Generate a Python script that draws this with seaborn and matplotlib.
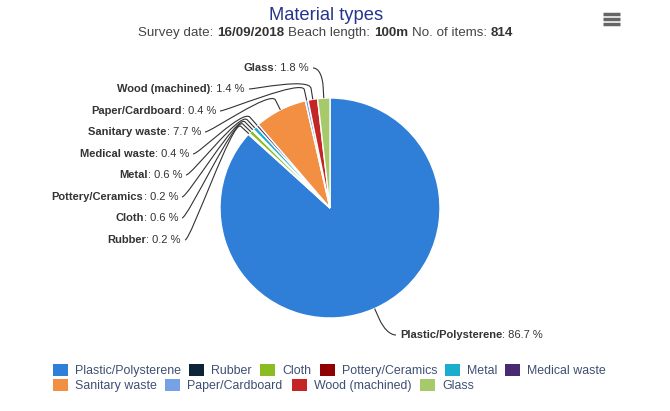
import numpy as np
import matplotlib.pyplot as plt
import seaborn as sns
from matplotlib.patches import Patch, PathPatch
from matplotlib.path import Path
from matplotlib.lines import Line2D

# donnees du graphique
materials = ["Plastic/Polysterene", "Rubber", "Cloth", "Pottery/Ceramics", "Metal",
             "Medical waste", "Sanitary waste", "Paper/Cardboard", "Wood (machined)", "Glass"]
shares = [86.7, 0.2, 0.6, 0.2, 0.6, 0.4, 7.7, 0.4, 1.4, 1.8]
colours = ["#2f7ed8", "#0d233a", "#8bbc21", "#910000", "#1aadce",
           "#492970", "#f28f43", "#77a1e5", "#c42525", "#a6c96a"]

survey_date = "16/09/2018"
beach_length = "100m"
n_items = "814"

sns.set_theme(style="white")
plt.rcParams['font.family'] = ['Liberation Sans', 'DejaVu Sans']
pal = sns.color_palette(colours)

W, H = 670, 411
cx, cy, r = 330, 208, 110   # centre / rayon du camembert en pixels

fig = plt.figure(figsize=(W / 100, H / 100), dpi=100)
fig.patch.set_facecolor("white")
ax = fig.add_axes([(cx - r) / W, (H - cy - r) / H, 2 * r / W, 2 * r / H])
wedges, _ = ax.pie(shares, colors=pal, startangle=90, counterclock=False,
                   wedgeprops=dict(edgecolor="white", linewidth=1))
ax.set_xlim(-1, 1)
ax.set_ylim(-1, 1)
ax.set_aspect("equal")
ax.axis("off")


def px(x, y):
    # pixels (origine en haut a gauche) -> coordonnees du camembert
    return (x - cx) / r, (cy - y) / r


# position des etiquettes (x bout du texte, y centre) en pixels
label_pos = {
    "Plastic/Polysterene": (400, 335, "left"),
    "Rubber": (181, 240, "right"),
    "Cloth": (178, 218, "right"),
    "Pottery/Ceramics": (178, 197, "right"),
    "Metal": (182, 175, "right"),
    "Medical waste": (189, 154, "right"),
    "Sanitary waste": (201, 132, "right"),
    "Paper/Cardboard": (216, 111, "right"),
    "Wood (machined)": (245, 89, "right"),
    "Glass": (309, 68, "right"),
}

txt_col = "#333333"
fs = 8
for w, name, val in zip(wedges, materials, shares):
    lx, ly, side = label_pos[name]
    tx, ty = px(lx, ly)
    if side == "right":
        v = ax.text(tx, ty, f": {val} %", ha="right", va="center", fontsize=fs,
                    color=txt_col, clip_on=False)
        ax.annotate(name, xy=(0, 0.5), xycoords=v, ha="right", va="center",
                    fontsize=fs, fontweight="bold", color=txt_col, annotation_clip=False)
        sx, sx2 = lx + 4, lx + 10
    else:
        n = ax.text(tx, ty, name, ha="left", va="center", fontsize=fs,
                    fontweight="bold", color=txt_col, clip_on=False)
        ax.annotate(f": {val} %", xy=(1, 0.5), xycoords=n, ha="left", va="center",
                    fontsize=fs, color=txt_col, annotation_clip=False)
        sx, sx2 = lx - 4, lx - 10
    th = np.deg2rad((w.theta1 + w.theta2) / 2)
    E = np.array([np.cos(th), np.sin(th)])
    B = E * 1.1
    A = np.array(px(sx, ly))
    C1 = np.array(px(sx2, ly))
    C2 = 2 * B - E
    path = Path([A, C1, C2, B, E],
                [Path.MOVETO, Path.CURVE4, Path.CURVE4, Path.CURVE4, Path.LINETO])
    ax.add_patch(PathPatch(path, fill=False, edgecolor=txt_col, lw=0.8, clip_on=False))

# titre et sous-titre
fig.text(326 / W, 1 - 16 / H, "Material types", ha="center", va="center",
         fontsize=13.2, color="#26358c")
pieces = [("Survey date:", "normal"), (survey_date, "bold"),
          ("Beach length:", "normal"), (beach_length, "bold"),
          ("No. of items:", "normal"), (n_items, "bold")]
sub_fs = 9.6
prev = fig.text(138 / W, 1 - 33 / H, pieces[0][0], ha="left", va="center",
                fontsize=sub_fs, color="#444444")
for t, wgt in pieces[1:]:
    prev = ax.annotate(t, xy=(1, 0), xycoords=prev, xytext=(2.7, 0),
                       textcoords="offset points", ha="left", va="bottom",
                       fontsize=sub_fs, fontweight=wgt,
                       color="#333333" if wgt == "bold" else "#444444",
                       annotation_clip=False)

# icone menu
for yy in (14, 19, 24):
    fig.add_artist(Line2D([603 / W, 620 / W], [1 - yy / H] * 2, color="#666666",
                          lw=2.5, solid_capstyle="butt", transform=fig.transFigure))

# legende sur deux lignes (position de chaque element en pixels)
leg_x = [53, 189, 260, 320, 445, 505, 53, 165, 292, 420]
leg_top = [364] * 6 + [379] * 4
leg_kw = dict(frameon=False, fontsize=8.9, handlelength=1.2, handleheight=1.1,
              handletextpad=0.58, borderpad=0, borderaxespad=0,
              labelcolor="#3e4f74", loc="upper left")
for m, c, x0, y0 in zip(materials, pal, leg_x, leg_top):
    h = Patch(facecolor=c, edgecolor="none", label=m)
    lg = fig.legend(handles=[h], bbox_to_anchor=(x0 / W, 1 - y0 / H), **leg_kw)

fig.savefig("out.png", dpi=100)
